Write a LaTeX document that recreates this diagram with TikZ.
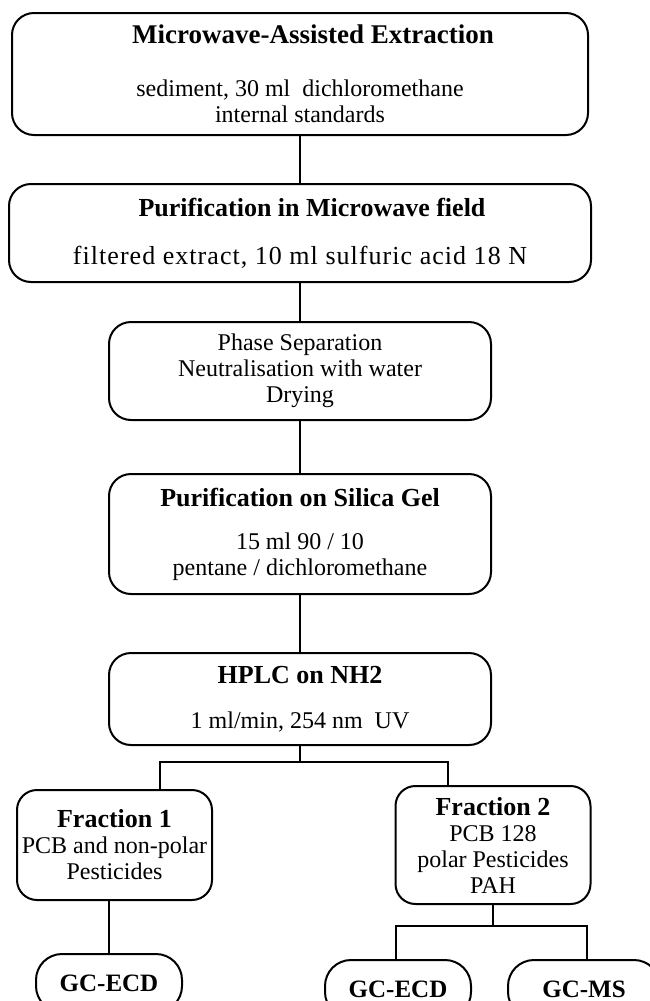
\documentclass[tikz,border=0pt]{standalone}
\usepackage{fontspec}
\setmainfont{Liberation Serif}
\usetikzlibrary{positioning}

% bold step titles
\newcommand{\hd}[1]{{\fontsize{26}{26}\selectfont\bfseries #1}}

\begin{document}
\begin{tikzpicture}[x=1pt, y=-1pt, node distance=47pt,
  every node/.style={font=\fontsize{24}{26}\selectfont},
  box/.style={draw, line width=2pt, rounded corners=22pt, align=center, inner sep=0pt},
  wide/.style={box, minimum width=576pt},
  mid/.style={box, minimum width=382pt},
  frac/.style={box, rounded corners=20pt, minimum width=195pt},
  oval/.style={draw, line width=2pt, rounded corners=26pt, minimum width=146pt, minimum height=58pt, font=\fontsize{25}{26}\selectfont\bfseries},
  link/.style={line width=2pt}]
\useasboundingbox (0,0) rectangle (650,1001);
\clip (0,0) rectangle (650,1001);

% main chain
\node[wide, minimum height=122pt] (mae) at (300,74) {\hspace*{26pt}{\fontsize{27}{26}\selectfont\bfseries Microwave-Assisted Extraction}\\[27pt]sediment, 30 ml\ \ dichloromethane\\internal standards};
\node[wide, minimum width=582pt, minimum height=98pt, below=of mae] (acid) {\hspace*{24pt}\hd{Purification in Microwave field}\\[22pt]{\fontsize{26}{26}\selectfont\addfontfeature{LetterSpace=4}filtered extract, 10 ml sulfuric acid 18 N}};
\node[mid, minimum height=98pt, below=38pt of acid] (phase) {Phase Separation\\Neutralisation with water\\Drying};
\node[mid, minimum height=120pt, below=52pt of phase] (silica) {\hd{Purification on Silica Gel}\\[17pt]15 ml 90 / 10\\pentane / dichloromethane};
\node[mid, minimum height=92pt, below=57pt of silica] (hplc) {\hd{HPLC on NH2}\\[19pt]1 ml/min, 254 nm\ \ UV};

% fractions
\node[frac, minimum height=110pt] (frac1) at (114.5,845) {\hd{Fraction 1}\\PCB and non-polar\\Pesticides};
\node[frac, minimum height=118pt] (frac2) at (493,845) {\hd{Fraction 2}\\PCB 128\\polar Pesticides\\PAH};

% detectors
\node[oval] (ecd1) at (109,983) {GC-ECD};
\node[oval] (ecd2) at (398,989) {GC-ECD};
\node[oval, minimum width=152pt] (ms) at (584,989) {GC-MS};

\coordinate (fork) at (300,762);
\coordinate (forkL) at (160,762);
\coordinate (forkR) at (448,762);
\coordinate (subfork) at (493,926);
\coordinate (subL) at (396,926);
\coordinate (subR) at (587,926);

\draw[link] (mae)--(acid);\draw[link] (acid)--(phase);\draw[link] (phase)--(silica);\draw[link] (silica)--(hplc);
\draw[link] (hplc)--(fork);
\draw[link] (forkL |- frac1.north)--(forkL)--(forkR)--(forkR |- frac2.north);
\draw[link] (ecd1.north |- frac1.south)--(ecd1.north);
\draw[link] (frac2)--(subfork);
\draw[link] (subL |- ecd2.north)--(subL)--(subR)--(subR |- ms.north);
\end{tikzpicture}
\end{document}
